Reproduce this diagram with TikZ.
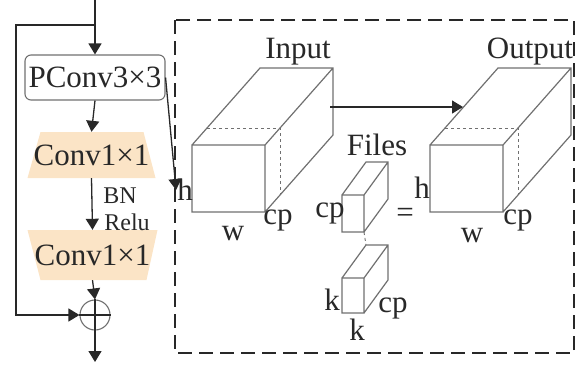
\documentclass[tikz,border=0pt]{standalone}
\usepackage{fontspec}
\setmainfont{Liberation Serif}
\usetikzlibrary{arrows.meta}
\definecolor{convfill}{RGB}{251,228,198}
\definecolor{linegray}{RGB}{112,112,112}
\definecolor{ink}{RGB}{40,40,40}

\begin{document}
\begin{tikzpicture}[x=1pt, y=-1pt, font=\fontsize{31}{32}\selectfont, text=ink,
  arr/.style={-{Triangle[length=11pt, width=13pt]}, line width=1.3pt, draw=ink},
  lbl/.style={inner sep=1pt},
  small/.style={font=\fontsize{24}{25}\selectfont},
  narrowtop/.style={inner sep=0pt, minimum width=128pt, minimum height=46pt,
    path picture={\fill[convfill] ([xshift=13pt]path picture bounding box.north west) -- ([xshift=-12pt]path picture bounding box.north east)
      -- (path picture bounding box.south east) -- (path picture bounding box.south west) -- cycle;}},
  narrowbottom/.style={inner sep=0pt, minimum width=130pt, minimum height=50pt,
    path picture={\fill[convfill] (path picture bounding box.north west) -- (path picture bounding box.north east)
      -- ([xshift=-11pt]path picture bounding box.south east) -- ([xshift=13pt]path picture bounding box.south west) -- cycle;}}]
  \useasboundingbox (0,0) rectangle (580,367);

  % left branch
  \node[draw=linegray, line width=1.1pt, rounded corners=6pt, minimum width=140pt, minimum height=45pt, inner sep=1pt] (pconv) at (95,77.5) {PConv3×3};
  \node[narrowtop] (conv1) at (91.5,155) {Conv1×1};
  \node[narrowbottom] (conv2) at (92.5,255) {Conv1×1};
  \node[draw=linegray, line width=1.1pt, circle, minimum size=30pt, inner sep=0pt] (sum) at (95,315) {};
  \node[lbl, small] (bn) at (120,196) {BN};
  \node[lbl, small] (relu) at (127,222) {Relu};

  \coordinate (in) at (95,0);
  \coordinate (split) at (95,25);
  \coordinate (out) at (95,362);
  \draw[arr] (in) -- (pconv.north);
  \draw[arr] (pconv.south) -- (conv1.north);
  \draw[arr] (conv1.south) -- (conv2.north);
  \draw[arr] (conv2.south) -- (sum.north);
  \draw[arr] (sum.south) -- (out);
  \draw[arr] (split) -- ++(-79,0) |- (sum.west);
  \draw[ink, line width=1.3pt] (sum.north) -- (sum.south) (sum.west) -- (sum.east);

  % dashed frame
  \draw[ink, line width=1.4pt, dash pattern=on 14pt off 7pt] (175,20) rectangle (574,353);

  % cubes: x/y of front face, width/height, depth offset
  \foreach \x/\y/\w/\h/\dx/\dy in {192/145/73/67/68/77, 430/145/73/67/68/77, 342/195/22/37/24/33, 342/278/22/35/24/33}
    \draw[linegray, line width=1.2pt] (\x,\y) rectangle ++(\w,\h)
      (\x,\y) -- ++(\dx,-\dy) -- ++(\w,0) -- ++(0,\h) -- ++(-\dx,\dy) (\x+\w,\y) -- ++(\dx,-\dy);
  \foreach \x in {192,430}
    \draw[linegray, line width=0.9pt, dashed] (\x+15,128) -- (\x+88,128) -- (\x+88,195);
  \draw[linegray, line width=0.9pt, dashed] (364,232) -- (366,245);

  % labels
  \node[lbl] (input) at (298,52) {Input};
  \node[lbl] (output) at (530,52) {Output};
  \node[lbl] (hin) at (185,190) {h};
  \node[lbl] (cpin) at (278,220) {cp};
  \node[lbl] (win) at (233,234) {w};
  \node[lbl] (hout) at (422,188) {h};
  \node[lbl] (cpout) at (518,220) {cp};
  \node[lbl] (wout) at (472,236) {w};
  \node[lbl] (eq) at (405,215) {=};
  \node[lbl] (files) at (377,145) {Files};
  \node[lbl] (cpfile) at (330,213) {cp};
  \node[lbl] (kleft) at (332,300) {k};
  \node[lbl] (kbot) at (357,330) {k};
  \node[lbl] (cpfile2) at (393,308) {cp};

  % connectors to the cubes
  \coordinate (inR) at (330,107);
  \coordinate (outL) at (463,107);
  \draw[arr] (inR) -- (outL);
  \draw[arr] (pconv.east) -- (hin.west);
\end{tikzpicture}
\end{document}
